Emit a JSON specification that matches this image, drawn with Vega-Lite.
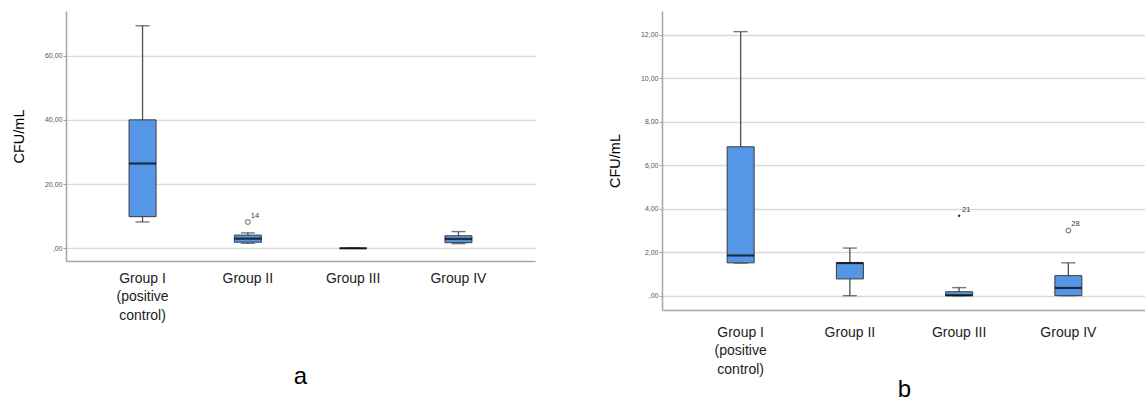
{
  "$schema": "https://vega.github.io/schema/vega-lite/v6.json",
  "autosize": {"type": "pad"},
  "padding": {"left": 11, "top": 11, "right": 0, "bottom": 0},
  "background": "white",
  "spacing": 72,
  "config": {
    "view": {"stroke": null},
    "font": "Liberation Sans",
    "axis": {
      "domainColor": "#a6a6a6",
      "domainWidth": 1.5,
      "gridColor": "#dadada",
      "gridWidth": 1.5,
      "labelFont": "Liberation Sans",
      "titleFont": "Liberation Sans"
    },
    "axisY": {
      "labelFontSize": 7,
      "labelColor": "#555555",
      "tickColor": "#a6a6a6",
      "tickSize": 3,
      "labelPadding": 1,
      "titleFontSize": 14.5,
      "titleFontWeight": "normal",
      "titleColor": "#000000",
      "titlePadding": 18,
      "labelExpr": "datum.value == 0 ? ',00' : replace(format(datum.value, '.2f'), '.', ',')"
    },
    "axisX": {
      "ticks": false,
      "grid": false,
      "labelFontSize": 14,
      "labelColor": "#222222",
      "labelAngle": 0,
      "labelLineHeight": 18.5,
      "labelBaseline": "top",
      "title": null,
      "labelExpr": "datum.value == 'Group I' ? ['Group I', '(positive', 'control)'] : datum.value"
    },
    "title": {"fontSize": 24, "fontWeight": "normal", "font": "Liberation Sans", "color": "#000000", "orient": "bottom", "anchor": "middle", "frame": "group"}
  },
  "hconcat": [
    {
      "width": 469,
      "height": 250,
      "title": {"text": "a", "offset": 43},
      "data": {"values": [
        {"group": "Group I", "min": 8.2, "q1": 9.85, "median": 26.4, "q3": 40, "max": 69.3},
        {"group": "Group II", "min": 1.55, "q1": 1.9, "median": 3.0, "q3": 4.1, "max": 4.8},
        {"group": "Group III", "min": 0, "q1": 0, "median": 0, "q3": 0, "max": 0},
        {"group": "Group IV", "min": 1.45, "q1": 1.75, "median": 2.9, "q3": 3.9, "max": 5.2}
      ]},
      "encoding": {
        "x": {"field": "group", "type": "nominal", "sort": null,
              "scale": {"type": "band", "paddingInner": 0, "paddingOuter": 0.227},
              "axis": {"labelPadding": 10}}
      },
      "layer": [
        {"mark": {"type": "rule", "color": "#505050", "strokeWidth": 1.3},
         "encoding": {
           "y": {"field": "min", "type": "quantitative",
                 "scale": {"domain": [-3.96, 73.9], "nice": false, "zero": false},
                 "axis": {"title": "CFU/mL", "values": [0, 20, 40, 60], "grid": true}},
           "y2": {"field": "max"}}},
        {"mark": {"type": "tick", "color": "#404040", "size": 14, "thickness": 1.4},
         "encoding": {"y": {"field": "min", "type": "quantitative"}}},
        {"mark": {"type": "tick", "color": "#404040", "size": 14, "thickness": 1.4},
         "encoding": {"y": {"field": "max", "type": "quantitative"}}},
        {"mark": {"type": "bar", "size": 27, "fill": "#5596e6", "stroke": "#3c3c3c", "strokeWidth": 1},
         "encoding": {"y": {"field": "q1", "type": "quantitative"}, "y2": {"field": "q3"}}},
        {"mark": {"type": "tick", "color": "#000000", "size": 27, "thickness": 2.2},
         "encoding": {"y": {"field": "median", "type": "quantitative"}}},
        {"data": {"values": [{"group": "Group II", "value": 8.2, "id": "14"}]},
         "mark": {"type": "point", "shape": "circle", "filled": false, "size": 22, "color": "#555555", "strokeWidth": 1.2},
         "encoding": {"y": {"field": "value", "type": "quantitative"}}},
        {"data": {"values": [{"group": "Group II", "value": 8.2, "id": "14"}]},
         "mark": {"type": "text", "fontSize": 7.5, "color": "#333333", "align": "left", "dx": 3, "dy": -6},
         "encoding": {"y": {"field": "value", "type": "quantitative"}, "text": {"field": "id"}}}
      ]
    },
    {
      "width": 485,
      "height": 299,
      "title": {"text": "b", "offset": 2},
      "data": {"values": [
        {"group": "Group I", "min": 1.5, "q1": 1.51, "median": 1.85, "q3": 6.85, "max": 12.15},
        {"group": "Group II", "min": 0, "q1": 0.77, "median": 1.5, "q3": 1.51, "max": 2.19},
        {"group": "Group III", "min": 0, "q1": 0, "median": 0.02, "q3": 0.18, "max": 0.37},
        {"group": "Group IV", "min": 0, "q1": 0, "median": 0.355, "q3": 0.92, "max": 1.51}
      ]},
      "encoding": {
        "x": {"field": "group", "type": "nominal", "sort": null,
              "scale": {"type": "band", "paddingInner": 0, "paddingOuter": 0.22},
              "axis": {"labelPadding": 15}}
      },
      "layer": [
        {"mark": {"type": "rule", "color": "#505050", "strokeWidth": 1.3},
         "encoding": {
           "y": {"field": "min", "type": "quantitative",
                 "scale": {"domain": [-0.66, 13.1], "nice": false, "zero": false},
                 "axis": {"title": "CFU/mL", "values": [0, 2, 4, 6, 8, 10, 12], "grid": true}},
           "y2": {"field": "max"}}},
        {"mark": {"type": "tick", "color": "#404040", "size": 14, "thickness": 1.4},
         "encoding": {"y": {"field": "min", "type": "quantitative"}}},
        {"mark": {"type": "tick", "color": "#404040", "size": 14, "thickness": 1.4},
         "encoding": {"y": {"field": "max", "type": "quantitative"}}},
        {"mark": {"type": "bar", "size": 27, "fill": "#5596e6", "stroke": "#3c3c3c", "strokeWidth": 1},
         "encoding": {"y": {"field": "q1", "type": "quantitative"}, "y2": {"field": "q3"}}},
        {"mark": {"type": "tick", "color": "#000000", "size": 27, "thickness": 2.2},
         "encoding": {"y": {"field": "median", "type": "quantitative"}}},
        {"data": {"values": [{"group": "Group IV", "value": 3.0, "id": "28"}]},
         "mark": {"type": "point", "shape": "circle", "filled": false, "size": 22, "color": "#555555", "strokeWidth": 1.2},
         "encoding": {"y": {"field": "value", "type": "quantitative"}}},
        {"data": {"values": [{"group": "Group III", "value": 3.68, "id": "21"}]},
         "mark": {"type": "point", "shape": "circle", "filled": true, "size": 6, "color": "#333333", "opacity": 1},
         "encoding": {"y": {"field": "value", "type": "quantitative"}}},
        {"data": {"values": [{"group": "Group IV", "value": 3.0, "id": "28"}, {"group": "Group III", "value": 3.68, "id": "21"}]},
         "mark": {"type": "text", "fontSize": 7.5, "color": "#333333", "align": "left", "dx": 3, "dy": -6},
         "encoding": {"y": {"field": "value", "type": "quantitative"}, "text": {"field": "id"}}}
      ]
    }
  ]
}
